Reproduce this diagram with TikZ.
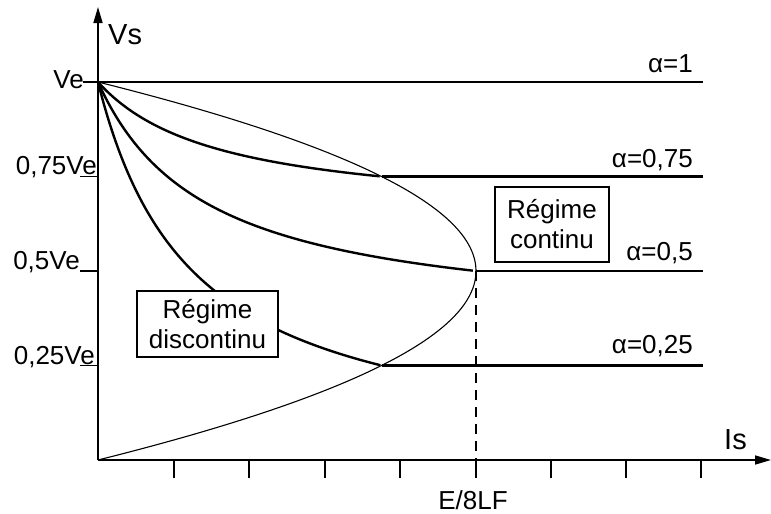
\documentclass[tikz,border=0pt]{standalone}
\usepackage{fontspec}
\setmainfont{Liberation Sans}
\usetikzlibrary{arrows.meta}
\begin{document}
\begin{tikzpicture}[x=1pt,y=-1pt,
  lbl/.style={inner sep=0pt, font=\fontsize{26}{31}\selectfont},
  axlbl/.style={inner sep=0pt, font=\fontsize{29}{34}\selectfont},
  thickline/.style={line width=2.4pt},
  thinline/.style={line width=1.1pt},
  axisline/.style={line width=1.6pt, -{Triangle[length=16pt,width=9pt]}},
  tickline/.style={line width=1.1pt},
  regbox/.style={draw, line width=1.1pt, fill=white, inner sep=0pt, align=center, font=\fontsize{26}{30}\selectfont}
]
\useasboundingbox (0,0) rectangle (771,514);
% key points
\coordinate (O) at (98,460);
\coordinate (Ytop) at (98,7);
\coordinate (Xend) at (771,460);
\coordinate (VE) at (98,82);
\coordinate (P75) at (381.5,176.5);
\coordinate (P50) at (476,271);
\coordinate (P25) at (381.5,365.5);
\coordinate (R100) at (703,82);
\coordinate (R75) at (703,176.5);
\coordinate (R50) at (703,271);
\coordinate (R25) at (703,365.5);
\coordinate (D50) at (476,460);

% axes
\draw[axisline] (O) -- (Ytop);
\draw[axisline] (O) -- (Xend);
\foreach \t in {174,249,325,400,476,551,626,701}
  \draw[tickline] (\t,460) -- (\t,478);

% boundary parabola
\draw[thinline] plot[domain=0:1, samples=100, smooth] ({98+1512*\x*(1-\x)},{460-378*\x});

% discontinuous-mode curves: i = c(1-v)/(v-w)
\draw[thickline] plot[domain=1:0.75, samples=80, smooth] ({98+378*0.321*(1-\x)/(\x-0.643)},{460-378*\x});
\draw[thickline] plot[domain=1:0.5, samples=80, smooth] ({98+378*0.29*(1-\x)/(\x-0.355)},{460-378*\x});
\draw[thickline] plot[domain=1:0.25, samples=100, smooth] ({98+378*0.25*(1-\x)/\x},{460-378*\x});

% continuous-mode horizontal lines
\draw[thickline] (VE) -- (R100);
\draw[thickline] (P75) -- (R75);
\draw[thickline] (P50) -- (R50);
\draw[thickline] (P25) -- (R25);
\draw[tickline, dash pattern=on 10pt off 7pt] (P50) -- (D50);

% y labels and leaders
\node[lbl, anchor=base east] (lve) at (84,88) {Ve};
\node[lbl, anchor=base east] (l75) at (97,174) {0,75Ve};
\node[lbl, anchor=base east] (l50) at (80,269) {0,5Ve};
\node[lbl, anchor=base east] (l25) at (95,364) {0,25Ve};
\coordinate (a100) at (83,82);
\coordinate (a75) at (80,176.5);
\coordinate (a50) at (80,271);
\coordinate (a25) at (80,365.5);
\draw[tickline] (a100) -- (VE);
\draw[tickline] (a75) -- (98,176.5);
\draw[tickline] (a50) -- (98,271);
\draw[tickline] (a25) -- (98,365.5);

% alpha labels
\node[lbl, anchor=base east] (al1) at (693,72) {α=1};
\node[lbl, anchor=base east] (al75) at (693,167) {α=0,75};
\node[lbl, anchor=base east] (al50) at (693,260) {α=0,5};
\node[lbl, anchor=base east] (al25) at (693,353) {α=0,25};

% axis labels
\node[axlbl, anchor=base west] (vs) at (108,44) {Vs};
\node[axlbl, anchor=base west] (is) at (724,449) {Is};
\node[lbl, anchor=base] (e8) at (473,509) {E/8LF};

% regime boxes
\node[regbox, minimum width=114pt, minimum height=75pt] (rc) at (552,224.5) {Régime\\continu};
\node[regbox, minimum width=141pt, minimum height=66pt] (rd) at (207.5,324) {Régime\\discontinu};
\end{tikzpicture}
\end{document}
